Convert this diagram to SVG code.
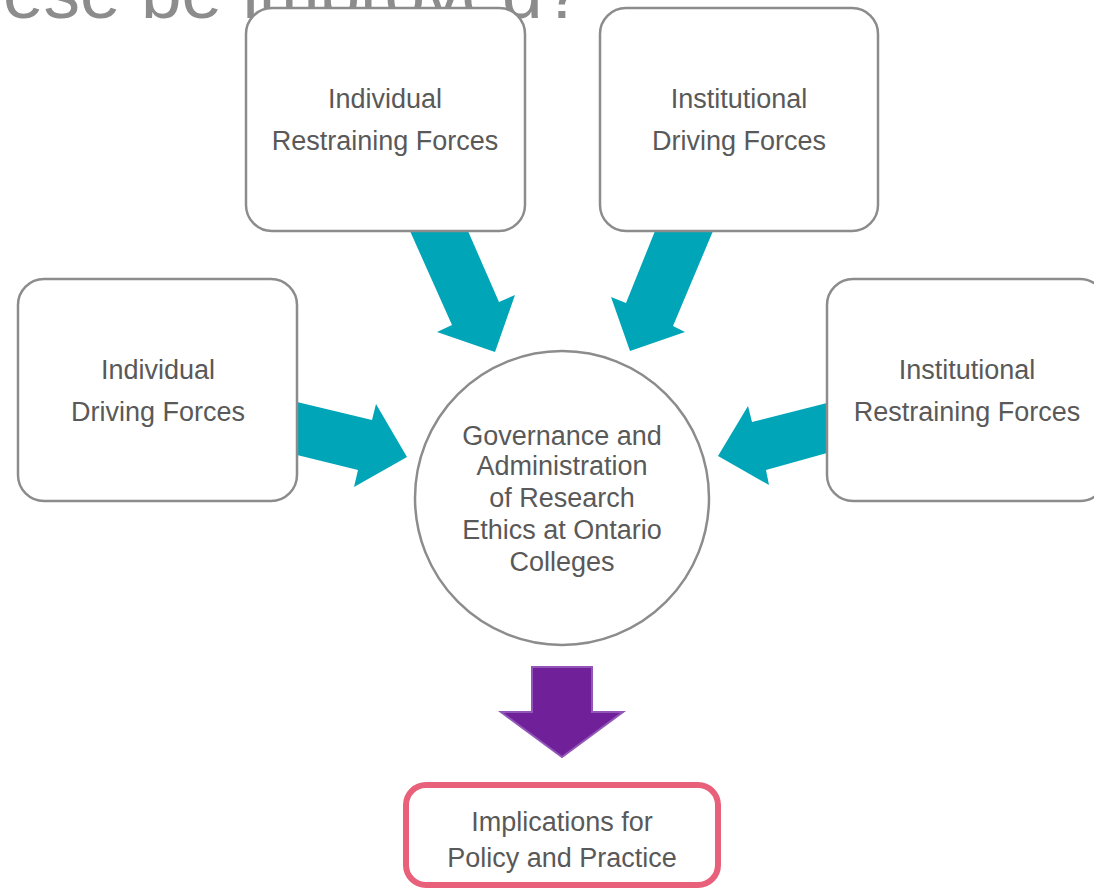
<svg xmlns="http://www.w3.org/2000/svg" width="1094" height="889" viewBox="0 0 1094 889">
<style>
.box{fill:#fff;stroke:#8c8c8c;stroke-width:2.5}
.t{font-family:"Liberation Sans",Arial,sans-serif;font-size:27px;fill:#595959;text-anchor:middle}
.ar{fill:#00a6b8}
</style>
<rect width="1094" height="889" fill="#fff"/>
<text x="3" y="18" font-family="Liberation Sans,Arial,sans-serif" font-size="73" fill="#8c8c8c">ese be improved?</text>
<g id="connectors">
<polygon class="ar" points="410,231 452,325 437,332 495,352 515,295 499,302 468,231"/>
<polygon class="ar" points="713,231 673,326 685,332 630,351 611,297 626,303 655,231"/>
<polygon class="ar" points="297,402 372,420 376,404 407,457 354,487 358,470 297,455"/>
<polygon class="ar" points="827,403 752,422 748,406 718,456 769,485 766,470 827,453"/>
<polygon points="532,667 592,667 592,712 623,712 562,757 501,712 532,712" fill="#70219a" stroke="#9156b8" stroke-width="2"/>
</g>
<g id="n-ind-restr">
<rect class="box" x="246" y="8" width="279" height="223" rx="26"/>
<text class="t" x="385" y="108">Individual</text>
<text class="t" x="385" y="150">Restraining Forces</text>
</g>
<g id="n-inst-drive">
<rect class="box" x="600" y="8" width="278" height="223" rx="26"/>
<text class="t" x="739" y="108">Institutional</text>
<text class="t" x="739" y="150">Driving Forces</text>
</g>
<g id="n-ind-drive">
<rect class="box" x="18" y="279" width="279" height="222" rx="26"/>
<text class="t" x="158" y="379">Individual</text>
<text class="t" x="158" y="421">Driving Forces</text>
</g>
<g id="n-inst-restr">
<rect class="box" x="827" y="279" width="279" height="222" rx="26"/>
<text class="t" x="967" y="379">Institutional</text>
<text class="t" x="967" y="421">Restraining Forces</text>
</g>
<g id="n-center">
<circle class="box" cx="562" cy="498" r="147"/>
<text class="t" x="562" y="445">Governance and</text>
<text class="t" x="562" y="475">Administration</text>
<text class="t" x="562" y="507">of Research</text>
<text class="t" x="562" y="539">Ethics at Ontario</text>
<text class="t" x="562" y="571">Colleges</text>
</g>
<g id="n-impl">
<rect x="406" y="785" width="312" height="100" rx="20" fill="#fff" stroke="#e8607a" stroke-width="6"/>
<text class="t" x="562" y="831">Implications for</text>
<text class="t" x="562" y="867">Policy and Practice</text>
</g>
</svg>
